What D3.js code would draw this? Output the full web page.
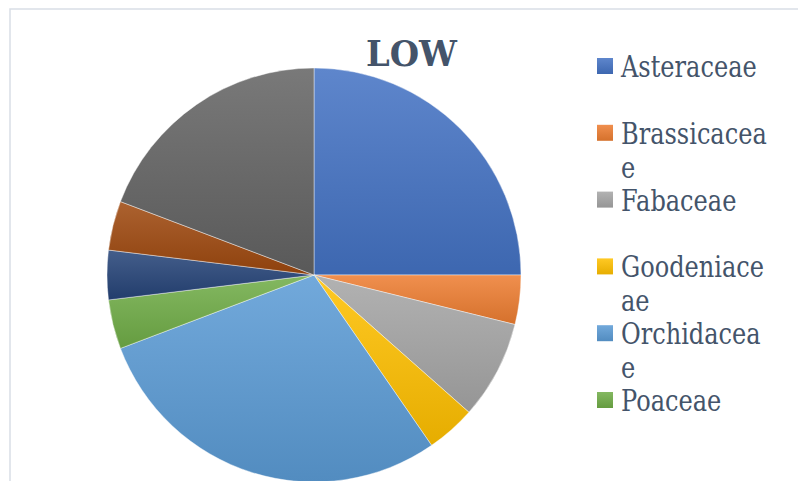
<!DOCTYPE html>
<html>
<head>
<meta charset="utf-8">
<script src="https://cdn.jsdelivr.net/npm/d3@7"></script>
<style>
  html, body { margin: 0; padding: 0; background: #fff; }
  svg { display: block; }
</style>
</head>
<body>
<svg id="chart" width="798" height="481"></svg>
<script>
// ---- data ----
const title = "LOW";
const categories = ["Asteraceae", "Brassicaceae", "Fabaceae", "Goodeniaceae", "Orchidaceae", "Poaceae", "Other 1", "Other 2", "Other 3"];
const values = [13, 2, 4, 2, 15, 2, 2, 2, 10];
// legend labels as wrapped in the picture (only the first six are visible)
const legendLines = [["Asteraceae"], ["Brassicacea", "e"], ["Fabaceae"], ["Goodeniace", "ae"], ["Orchidacea", "e"], ["Poaceae"]];
const colors = ["#4472C4", "#ED7D31", "#A5A5A5", "#FFC000", "#5B9BD5", "#70AD47", "#264478", "#9E480E", "#636363"];

const svg = d3.select("#chart");

// gradients (lighter top, darker bottom)
const defs = svg.append("defs");
colors.forEach((c, i) => {
  const g = defs.append("linearGradient")
    .attr("id", "grad" + i)
    .attr("x1", 0).attr("y1", 0).attr("x2", 0).attr("y2", 1);
  g.append("stop").attr("offset", "0%").attr("stop-color", d3.interpolateRgb(c, "#ffffff")(0.14));
  g.append("stop").attr("offset", "100%").attr("stop-color", d3.interpolateRgb(c, "#000000")(0.1));
});

// chart border (extends past the window)
svg.append("rect")
  .attr("x", 10).attr("y", 9)
  .attr("width", 900).attr("height", 600)
  .attr("fill", "none")
  .attr("stroke", "#D9DEE6")
  .attr("stroke-width", 1.5);

// pie
const cx = 314, cy = 275, R = 207;
const pie = d3.pie().sort(null).value(d => d)(values);
const arc = d3.arc().innerRadius(0).outerRadius(R);
const g = svg.append("g").attr("transform", `translate(${cx},${cy})`);
g.selectAll("path")
  .data(pie)
  .join("path")
  .attr("d", arc)
  .attr("fill", (d, i) => `url(#grad${i})`)
  .attr("stroke", "#ffffff")
  .attr("stroke-opacity", 0.6)
  .attr("stroke-width", 0.7);

// title
svg.append("text")
  .attr("x", 411.5).attr("y", 65.5)
  .attr("text-anchor", "middle")
  .attr("font-family", "DejaVu Serif")
  .attr("font-weight", "bold")
  .attr("font-size", 35)
  .attr("textLength", 91)
  .attr("lengthAdjust", "spacingAndGlyphs")
  .attr("fill", "#44546A")
  .text(title);

// legend
const legend = svg.append("g");
const step = 66.8;
legendLines.forEach((lines, i) => {
  const yc = 66 + i * step;
  legend.append("rect")
    .attr("x", 597).attr("y", yc - 8)
    .attr("width", 16).attr("height", 16)
    .attr("fill", `url(#grad${i})`);
  lines.forEach((ln, j) => {
    legend.append("text")
      .attr("transform", `translate(621,${yc + 11 + j * 34}) scale(0.83,1)`)
      .attr("font-family", "DejaVu Serif")
      .attr("font-size", 29)
      .attr("fill", "#44546A")
      .text(ln);
  });
});
</script>
</body>
</html>
